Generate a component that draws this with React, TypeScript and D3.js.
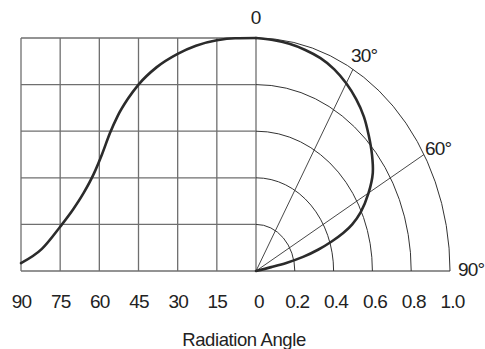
import React from "react";
import * as d3 from "d3";

// Left (cartesian) part: angle (deg) vs relative intensity
const leftAngles = [90, 82, 75, 70, 66, 62, 59, 56, 53, 49, 45, 38, 30, 23, 15, 8, 0];
const leftIntensity = [0.034, 0.095, 0.19, 0.265, 0.335, 0.42, 0.5, 0.59, 0.665, 0.74, 0.8, 0.875, 0.932, 0.967, 0.99, 0.999, 1.0];

// Right (polar) part: angle from vertical (deg) vs relative radius
const polarAngles = [0, 5, 10, 15, 20, 25, 30, 35, 40, 45, 50, 55, 60, 65, 68, 70, 72, 74, 76, 77.5, 78, 78];
const polarRadius = [1.0, 0.995, 0.99, 0.982, 0.972, 0.955, 0.93, 0.9, 0.865, 0.822, 0.78, 0.735, 0.67, 0.595, 0.535, 0.48, 0.41, 0.335, 0.25, 0.16, 0.08, 0];

const angleTicks = [90, 75, 60, 45, 30, 15];
const radiusTicks = [0, 0.2, 0.4, 0.6, 0.8, 1.0];
const gridRows = [0, 0.2, 0.4, 0.6, 0.8, 1.0];
const arcRadii = [0.2, 0.4, 0.6, 0.8, 1.0];
const spokeAngles = [30, 60];
const spokeLabels = ["30°", "60°", "90°"];
const spokeLabelAngles = [30, 60, 90];
const topLabel = "0";
const xTitle = "Radiation Angle";

const W = 485;
const H = 349;
const ox = 256;
const oy = 271;
const gridLeft = 21;
const top = 38;

const font = "'Liberation Sans', Arial, sans-serif";
const textColor = "#222";

export default function App() {
  const xA = d3.scaleLinear().domain([90, 0]).range([gridLeft, ox]);
  const yI = d3.scaleLinear().domain([0, 1]).range([oy, top]);
  const rX = d3.scaleLinear().domain([0, 1]).range([0, 450 - ox]);
  const rY = d3.scaleLinear().domain([0, 1]).range([0, oy - top]);

  const toRad = (deg: number) => (deg * Math.PI) / 180;
  const px = (deg: number, r: number) => ox + rX(r) * Math.sin(toRad(deg));
  const py = (deg: number, r: number) => oy - rY(r) * Math.cos(toRad(deg));

  const leftData = leftAngles.map((a, i) => ({ a, v: leftIntensity[i] }));
  const leftPath = d3
    .line<{ a: number; v: number }>()
    .x((d) => xA(d.a))
    .y((d) => yI(d.v))
    .curve(d3.curveMonotoneX)(leftData) as string;

  const polarData = polarAngles.map((a, i) => ({ a, r: polarRadius[i] }));
  const polarPath = d3
    .line<{ a: number; r: number }>()
    .x((d) => px(d.a, d.r))
    .y((d) => py(d.a, d.r))
    .curve(d3.curveCatmullRom.alpha(0.5))(polarData) as string;

  const gridColor = "#6f6f6f";
  const lineColor = "#333";

  const labelOffsets: Record<string, [number, number]> = {
    "30°": [-2, -7],
    "60°": [1, 0],
    "90°": [8, 5],
  };

  return (
    <svg
      width={W}
      height={H}
      style={{ position: "absolute", left: 0, top: 0, background: "#fff" }}
      fontFamily={font}
    >
      <rect x={0} y={0} width={W} height={H} fill="#fff" />
      {angleTicks.concat([0]).map((a) => (
        <line key={"v" + a} x1={xA(a)} x2={xA(a)} y1={yI(0)} y2={yI(1)} stroke={gridColor} strokeWidth={1.3} />
      ))}
      {gridRows.map((v) => (
        <line key={"h" + v} x1={xA(90)} x2={xA(0)} y1={yI(v)} y2={yI(v)} stroke={gridColor} strokeWidth={1.3} />
      ))}
      <line x1={ox} x2={ox + rX(1)} y1={oy} y2={oy} stroke={gridColor} strokeWidth={1.3} />
      {arcRadii.map((r) => (
        <path
          key={"arc" + r}
          d={`M${px(0, r)},${py(0, r)} A${rX(r)},${rY(r)} 0 0 1 ${px(90, r)},${py(90, r)}`}
          fill="none"
          stroke={lineColor}
          strokeWidth={1}
        />
      ))}
      {spokeAngles.map((a) => (
        <line key={"s" + a} x1={ox} y1={oy} x2={px(a, 1)} y2={py(a, 1)} stroke={lineColor} strokeWidth={0.9} />
      ))}
      <path d={leftPath} fill="none" stroke="#2b2b2b" strokeWidth={2.6} strokeLinecap="round" />
      <path d={polarPath} fill="none" stroke="#2b2b2b" strokeWidth={2.6} strokeLinecap="round" />
      <text x={ox} y={24} textAnchor="middle" fontSize={19} fill={textColor}>
        {topLabel}
      </text>
      {spokeLabels.map((t, i) => {
        const a = spokeLabelAngles[i];
        const [dx, dy] = labelOffsets[t];
        return (
          <text key={t} x={px(a, 1) + dx} y={py(a, 1) + dy} fontSize={19} letterSpacing={-0.8} fill={textColor}>
            {t}
          </text>
        );
      })}
      {angleTicks.concat([0]).map((a) => (
        <text
          key={"at" + a}
          x={xA(a) + (a === 0 ? 3 : 0.5)}
          y={307.5}
          textAnchor="middle"
          fontSize={19}
          letterSpacing={-0.8}
          fill={textColor}
        >
          {String(a)}
        </text>
      ))}
      {radiusTicks.slice(1).map((r) => (
        <text
          key={"rt" + r}
          x={ox + rX(r) + 2.5}
          y={307.5}
          textAnchor="middle"
          fontSize={19}
          letterSpacing={-0.8}
          fill={textColor}
        >
          {r.toFixed(1)}
        </text>
      ))}
      <text x={244} y={345.5} textAnchor="middle" fontSize={18.5} letterSpacing={-0.4} fill={textColor}>
        {xTitle}
      </text>
    </svg>
  );
}
